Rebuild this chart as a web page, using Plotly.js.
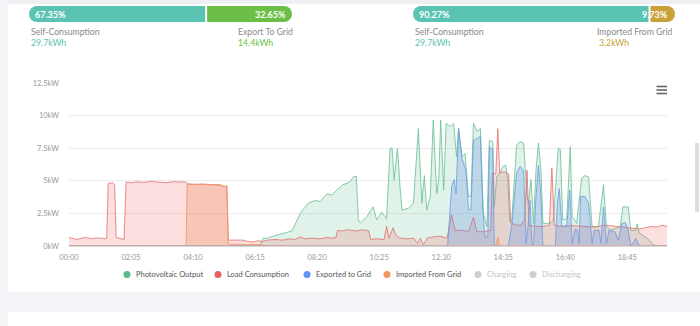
<!DOCTYPE html>
<html>
<head>
<meta charset="utf-8">
<script src="https://cdn.plot.ly/plotly-3.0.1.min.js"></script>
<style>
html,body{margin:0;padding:0;background:#fff;}
#chart{width:700px;height:326px;}
</style>
</head>
<body>
<div id="chart"></div>
<script>
// ---------------- DATA ----------------
const tickText = ['00:00','02:05','04:10','06:15','08:20','10:25','12:30','14:35','16:40','18:45'];
const yTickVals = [0, 2.5, 5, 7.5, 10, 12.5];
const yTickText = ['0kW','2.5kW','5kW','7.5kW','10kW','12.5kW'];

const seriesNames = ['Photovoltaic Output','Load Consumption','Exported to Grid','Imported From Grid','Charging','Discharging'];

// Generation split (left bar) and consumption split (right bar)
const genShares = [67.35, 32.65];
const genLabels = ['Self-Consumption', 'Export To Grid'];
const genEnergy = [29.7, 14.4];
const useShares = [90.27, 9.73];
const useLabels = ['Self-Consumption', 'Imported From Grid'];
const useEnergy = [29.7, 3.2];

// [minute of day, kW]
const pvOutput = [[0,0],[385,0],[391,0.6],[400,0.6],[415,0.8],[431,0.97],[449,1.15],[455,1.6],[466,2.5],[474,2.9],[482,3.27],[496,3.5],[506,3.4],[520,4.0],[530,3.9],[540,4.3],[552,4.7],[566,4.9],[573,5.3],[579,5.35],[583,2.0],[587,1.75],[600,2.25],[613,3.0],[620,2.0],[630,2.6],[640,2.1],[647,7.5],[651,7.5],[655,5.1],[662,7.5],[667,4.55],[671,2.76],[684,2.9],[694,3.27],[704,9.0],[711,3.27],[716,5.4],[721,2.76],[728,3.8],[734,9.66],[741,4.0],[745,5.1],[749,9.66],[755,4.3],[760,9.4],[768,9.15],[775,9.4],[781,6.85],[785,9.0],[792,6.85],[798,7.1],[805,3.8],[810,3.8],[815,9.4],[822,8.8],[829,9.0],[835,2.5],[842,1.5],[847,8.1],[854,8.0],[857,3.0],[862,5.3],[868,5.6],[874,6.1],[880,6.2],[884,5.2],[888,1.9],[892,1.9],[902,7.75],[909,8.0],[916,7.9],[923,3.8],[926,3.27],[931,5.1],[936,1.74],[941,5.8],[946,7.9],[951,5.8],[955,1.74],[970,1.74],[976,2.0],[986,7.5],[990,7.4],[995,2.0],[1003,2.1],[1010,7.6],[1014,2.25],[1023,1.74],[1033,5.2],[1040,5.4],[1047,5.3],[1054,1.5],[1067,1.5],[1077,4.7],[1083,1.5],[1091,1.23],[1111,1.45],[1116,3.0],[1127,3.0],[1132,1.2],[1141,1.2],[1145,1.7],[1149,1.0],[1165,0.6],[1178,0.08],[1188,0],[1205,0]];

const loadConsumption = [[0,0.65],[8,0.55],[16,0.5],[25,0.6],[35,0.65],[45,0.55],[55,0.62],[65,0.6],[72,0.55],[76,0.6],[79,4.8],[88,4.85],[92,4.7],[95,0.65],[104,0.55],[111,0.5],[115,4.9],[125,4.85],[135,4.92],[150,4.88],[165,4.95],[180,4.92],[195,4.86],[210,4.93],[225,4.9],[236,4.9],[240,4.75],[255,4.72],[270,4.75],[290,4.7],[300,4.72],[308,4.65],[312,4.55],[318,4.6],[321,0.45],[330,0.45],[340,0.4],[350,0.45],[360,0.35],[370,0.3],[380,0.4],[390,0.35],[400,0.45],[415,0.5],[430,0.45],[445,0.55],[455,0.5],[466,0.7],[475,0.55],[490,0.6],[505,0.55],[520,0.65],[530,0.6],[538,0.65],[541,1.2],[550,1.15],[560,1.25],[570,1.2],[580,1.15],[590,1.25],[600,1.2],[604,1.15],[608,0.5],[620,0.55],[635,0.5],[640,1.5],[645,0.6],[653,1.4],[659,0.8],[667,0.6],[680,0.55],[695,0.6],[702,0.2],[708,0.6],[714,0.1],[722,0.6],[734,0.7],[748,0.75],[762,0.6],[771,2.4],[778,1.2],[795,1.2],[805,1.1],[815,2.2],[822,1.1],[835,1.1],[850,1.2],[853,5.6],[860,5.5],[864,9.0],[868,5.6],[878,5.7],[886,5.5],[890,1.8],[900,1.6],[910,1.6],[918,2.0],[923,5.8],[927,1.6],[940,1.5],[955,1.5],[968,1.6],[973,6.0],[978,1.6],[990,1.5],[1000,1.55],[1020,1.55],[1040,1.5],[1060,1.45],[1080,1.6],[1100,1.5],[1120,1.4],[1140,1.3],[1150,1.3],[1160,1.4],[1175,1.5],[1185,1.45],[1195,1.6],[1205,1.5]];

const exportedToGrid = [[0,0],[763,0],[771,4.55],[776,5.1],[780,4.0],[785,9.0],[792,6.7],[800,5.8],[805,2.76],[810,2.76],[815,8.1],[822,8.25],[829,8.4],[834,2.76],[838,0.7],[844,0.7],[847,7.6],[854,7.4],[857,0],[885,0],[892,1.5],[902,5.6],[909,6.1],[916,5.8],[921,0.2],[925,1.5],[929,3.5],[933,0.1],[936,0.1],[941,3.8],[946,6.2],[951,3.8],[955,0],[980,0],[984,3.3],[988,4.4],[993,1.5],[1003,1.5],[1009,4.3],[1014,0.2],[1020,1.3],[1025,1.2],[1028,0.2],[1031,3.8],[1040,3.8],[1047,3.3],[1054,0.2],[1058,1.2],[1068,1.2],[1072,0.2],[1077,3.0],[1083,0.2],[1088,1.2],[1100,1.1],[1107,0.45],[1114,1.7],[1121,1.8],[1127,1.2],[1132,0],[1138,0.3],[1142,0.6],[1149,0],[1205,0]];

const importedFromGrid = [[0,0],[236,0],[238,4.75],[255,4.72],[270,4.75],[290,4.7],[300,4.72],[308,4.65],[312,4.55],[318,4.6],[321,0.15],[340,0.12],[360,0.1],[380,0.12],[395,0.05],[400,0],[860,0],[864,0.7],[868,0],[1205,0]];

// ---------------- STYLE / LAYOUT ----------------
const FONT = 'Lato, "Open Sans", sans-serif';
const L = 69, R = 667, T = 83, B = 246;
const P = x => (x - L) / (R - L);
const Q = y => (B - y) / (B - T);
const toMin = s => { const [h, m] = s.split(':').map(Number); return h * 60 + m; };

const lineCols = ['rgba(110,195,150,0.85)', 'rgba(228,110,110,0.8)', 'rgba(105,155,230,0.8)', 'rgba(238,150,105,0.85)'];
const fillCols = ['rgba(100,190,145,0.2)', 'rgba(238,102,102,0.2)', 'rgba(95,145,230,0.27)', 'rgba(240,140,90,0.3)'];
const legendCols = ['rgb(92,184,140)', 'rgb(226,100,100)', 'rgb(98,146,240)', 'rgb(240,150,96)', '#cfcfcf', '#cfcfcf'];
const series = [pvOutput, loadConsumption, exportedToGrid, importedFromGrid];

const traces = series.map((s, i) => ({
  type: 'scatter', mode: 'lines', name: seriesNames[i],
  x: s.map(p => p[0]), y: s.map(p => p[1]),
  fill: 'tozeroy', fillcolor: fillCols[i],
  line: {color: lineCols[i], width: 1, shape: 'linear'},
  showlegend: false, hoverinfo: 'skip'
}));

const shapes = [];
const annotations = [];
function rect(x0, y0, x1, y1, color, layer) {
  shapes.push({type: 'rect', xref: 'paper', yref: 'paper', x0: P(x0), x1: P(x1), y0: Q(y1), y1: Q(y0),
    fillcolor: color, line: {width: 0}, layer: layer || 'above'});
}
function circ(x0, y0, x1, y1, color) {
  shapes.push({type: 'circle', xref: 'paper', yref: 'paper', x0: P(x0), x1: P(x1), y0: Q(y1), y1: Q(y0),
    fillcolor: color, line: {width: 0}, layer: 'above'});
}
function txt(text, x, y, size, color, xanchor, extra) {
  annotations.push(Object.assign({text: text, xref: 'paper', yref: 'paper', x: P(x), y: Q(y),
    xanchor: xanchor || 'left', yanchor: 'middle', showarrow: false,
    font: {family: FONT, size: size, color: color}}, extra || {}));
}

// page background pieces
rect(0, 0, 700, 4, '#eef0f4', 'below');
rect(0, 0, 8, 326, '#f3f4f7', 'below');
rect(0, 292, 700, 312, '#f3f4f7', 'below');
rect(695, 143, 699, 212, '#dcdcdc', 'below');

// summary bars
const TEAL = '#5bc3b2', GREEN = '#6bbf47', GOLD = '#c9a13b';
function bar(x0, x1, shares, cols) {
  const w = x1 - x0, split = x0 + w * shares[0] / 100;
  const y0 = 6, y1 = 22, r = 8;
  circ(x0, y0, x0 + 2 * r, y1, cols[0]);
  rect(x0 + r, y0, split - 1, y1, cols[0]);
  circ(x1 - 2 * r, y0, x1, y1, cols[1]);
  rect(split + 1, y0, x1 - r, y1, cols[1]);
  return split;
}
bar(29, 292, genShares, [TEAL, GREEN]);
bar(413, 675, useShares, [TEAL, GOLD]);

txt('<b>' + genShares[0].toFixed(2) + '%</b>', 33, 14.5, 9, '#fff');
txt('<b>' + genShares[1].toFixed(2) + '%</b>', 288, 14.5, 9, '#fff', 'right');
txt('<b>' + useShares[0].toFixed(2) + '%</b>', 417, 14.5, 9, '#fff');
txt('<b>' + useShares[1].toFixed(2) + '%</b>', 670, 14.5, 9, '#fff', 'right');

txt(genLabels[0], 29, 31.5, 8.7, '#8a8a8a');
txt(genEnergy[0].toFixed(1) + 'kWh', 29, 42.5, 8.7, TEAL);
txt(genLabels[1], 236, 31.5, 8.7, '#8a8a8a');
txt(genEnergy[1].toFixed(1) + 'kWh', 236, 42.5, 8.7, GREEN);
txt(useLabels[0], 413, 31.5, 8.7, '#8a8a8a');
txt(useEnergy[0].toFixed(1) + 'kWh', 413, 42.5, 8.7, TEAL);
txt(useLabels[1], 675, 31.5, 8.7, '#8a8a8a', 'right');
txt(useEnergy[1].toFixed(1) + 'kWh', 597, 42.5, 8.7, GOLD);

// menu icon
[86.5, 90, 93.5].forEach(y => shapes.push({type: 'line', xref: 'paper', yref: 'paper',
  x0: P(656.5), x1: P(667), y0: Q(y), y1: Q(y), line: {color: '#666', width: 1.6}}));

// custom legend
const legendX = [127, 218, 307, 387, 478, 533];
seriesNames.forEach((n, i) => {
  circ(legendX[i] - 3.5, 271, legendX[i] + 3.5, 278, legendCols[i]);
  txt(n, legendX[i] + 7, 274.5, 7.5, i < 4 ? '#555' : '#c4c4c4');
});

const layout = {
  width: 700, height: 326,
  margin: {l: L, r: 700 - R, t: T, b: 326 - B, pad: 0},
  paper_bgcolor: '#fff', plot_bgcolor: '#fff',
  font: {family: FONT, size: 7.5, color: '#999'},
  showlegend: false,
  xaxis: {
    range: [0, 1205], tickmode: 'array',
    tickvals: tickText.map(toMin), ticktext: tickText,
    showgrid: false, zeroline: false, showline: true, linecolor: '#d9d9d9', linewidth: 1,
    ticks: '', ticklabelstandoff: 4, tickfont: {family: FONT, size: 7.5, color: '#999'}, fixedrange: true
  },
  yaxis: {
    range: [0, 12.5], tickmode: 'array', tickvals: yTickVals, ticktext: yTickText,
    showgrid: true, gridcolor: '#ececec', gridwidth: 1, zeroline: false, showline: false,
    ticks: '', ticklabelstandoff: 9, tickfont: {family: FONT, size: 7.5, color: '#999'}, fixedrange: true
  },
  shapes: shapes, annotations: annotations
};

Plotly.newPlot('chart', traces, layout, {displayModeBar: false, staticPlot: true});
</script>
</body>
</html>
